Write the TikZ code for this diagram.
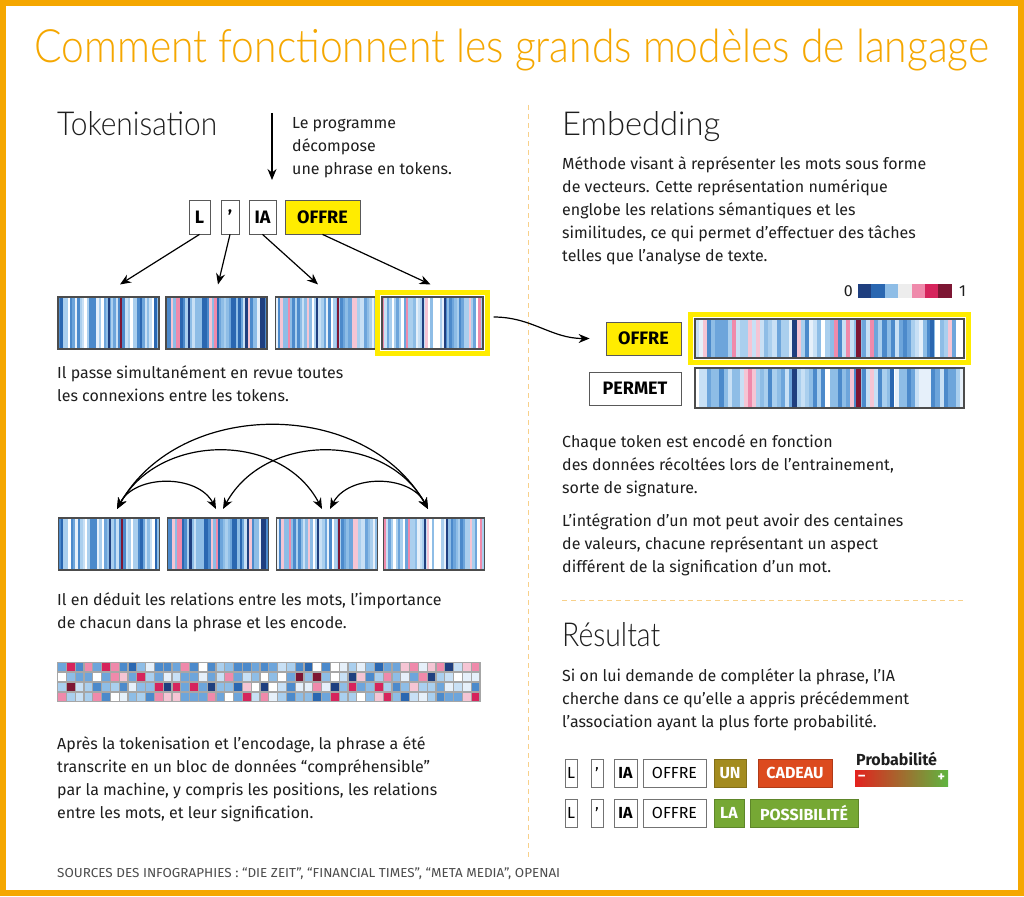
\documentclass[tikz,border=0pt]{standalone}
\usepackage{fontspec}
\setmainfont{Fira Sans}
\newfontfamily\headfont{Lato Light}
\usetikzlibrary{calc,shapes,arrows.meta}

\definecolor{frameorange}{HTML}{F5A700}
\definecolor{dashorange}{HTML}{F8D08A}
\definecolor{hiyellow}{HTML}{FFEC00}
\definecolor{ink}{HTML}{1E1E1E}
% stripe colours: blues first, then pinks and reds
\definecolor{bc1}{HTML}{1F3F7F}
\definecolor{bc2}{HTML}{2A67B1}
\definecolor{bc3}{HTML}{4C8ACB}
\definecolor{bc4}{HTML}{6DA5DB}
\definecolor{bc5}{HTML}{8EBDE6}
\definecolor{bc6}{HTML}{AACFEE}
\definecolor{bc7}{HTML}{C8E0F5}
\definecolor{bc8}{HTML}{E6F0FA}
\definecolor{bc9}{HTML}{FFFFFF}
\colorlet{bc10}{bc4}
\colorlet{bc11}{bc5}
\colorlet{bc12}{bc6}
\colorlet{bc13}{bc3}
\colorlet{bc14}{bc7}
\definecolor{bc15}{HTML}{F5C5D4}
\definecolor{bc16}{HTML}{EF8AAB}
\definecolor{bc17}{HTML}{D6245C}
\definecolor{bc18}{HTML}{7D1633}
\definecolor{unolive}{HTML}{A38B1F}
\definecolor{cadeaured}{HTML}{DC4A1E}
\definecolor{possgreen}{HTML}{76A834}
\definecolor{probred}{HTML}{E3221E}
\definecolor{proborange}{HTML}{D98A25}
\definecolor{probgreen}{HTML}{5FB540}

\newcommand\bodyfont{\fontsize{16}{23}\selectfont}
\newcommand\tokfont{\fontsize{18}{20}\selectfont\bfseries}
\newcommand\resfont{\fontsize{16}{18}\selectfont}

% random stripes inside a bar: seed, count, lowest colour, highest colour
\newcommand\stripes[4]{%
  \pgfmathsetseed{#1}%
  \foreach \i in {1,...,#2}{%
    \pgfmathrandominteger{\ci}{#3}{#4}%
    \fill[fill=bc\ci] ($(path picture bounding box.south west)!{(\i-1)/#2}!(path picture bounding box.south east)$)
      rectangle ($(path picture bounding box.north west)!{\i/#2}!(path picture bounding box.north east)+(0.6,0)$);
  }}
\newcommand\oneline[3]{% colour, offset, width
  \fill[#1] ($(path picture bounding box.south west)+(#2,0)$) rectangle ++(#3,-60);}

\begin{document}
\begin{tikzpicture}[x=1pt,y=-1pt,
  txt/.style={anchor=north west, inner sep=0pt, align=left, text=ink, font=\bodyfont},
  heading/.style={anchor=base west, inner sep=0pt, text=ink, font=\headfont\fontsize{33}{36}\selectfont},
  tok/.style={draw=black!65, line width=0.8pt, fill=white, inner sep=0pt, minimum height=34pt, font=\tokfont},
  rtok/.style={draw=black!55, line width=0.8pt, fill=white, inner sep=0pt, minimum height=28pt, font=\resfont},
  ctok/.style={rtok, text=white, draw=#1!80!black, fill=#1, font=\resfont\bfseries},
  bar/.style={draw=black!70, line width=1.1pt, inner sep=0pt, minimum width=101pt, minimum height=52pt},
  link/.style={-{Stealth[length=11pt,width=9pt]}, line width=1.2pt},
  twoway/.style={{Stealth[length=11pt,width=9pt]}-{Stealth[length=11pt,width=9pt]}, line width=1.2pt},
  hiframe/.style={draw=hiyellow, line width=5pt},
  divider/.style={draw=dashorange, line width=1pt, dash pattern=on 5pt off 4pt}]

\useasboundingbox (0,0) rectangle (1024,896);
\fill[white] (0,0) rectangle (1024,896);
\draw[frameorange, line width=6pt] (3,3) rectangle (1021,893);

% title
\node[anchor=base, inner sep=0pt, text=frameorange, font=\headfont\fontsize{46}{50}\selectfont] (title) at (512,63)
  {\resizebox{955pt}{\height}{Comment fonctionnent les grands modèles de langage}};

% dividers
\draw[divider] (528,105) -- (528,860);
\draw[divider] (562,600) -- (965,600);

%%% Tokenisation
\node[heading] (tokhead) at (57,136) {\resizebox{160pt}{\height}{Tokenisation}};
\coordinate (dtop) at (272,113);
\coordinate (dbot) at (272,180);
\draw[link] (dtop) -- (dbot);
\node[txt] (tokdesc) at (292,117) {Le programme\\décompose\\une phrase en tokens.};

\node[tok, minimum width=21pt] (tL) at (199.5,217) {L};
\node[tok, minimum width=18pt] (tq) at (230,217) {’};
\node[tok, minimum width=27pt] (tIA) at (262.5,217) {IA};
\node[tok, minimum width=75pt, fill=hiyellow] (tOF) at (322.5,217) {OFFRE};

\node[bar, path picture={\stripes{11}{42}{2}{14}\oneline{bc1}{50}{2}\oneline{bc18}{62}{2}}] (r1) at (108.5,323) {};
\node[bar, path picture={\stripes{23}{42}{1}{17}}] (r2) at (216.5,323) {};
\node[bar, path picture={\stripes{37}{42}{3}{16}\oneline{bc1}{40}{2}\oneline{bc18}{61}{2}}] (r3) at (326,323) {};
\node[bar, path picture={\stripes{41}{42}{4}{16}\oneline{bc1}{40}{2}\oneline{bc1}{62}{2}}] (r4) at (432.5,323) {};
\draw[hiframe] ([shift={(-4pt,4pt)}]r4.north west) rectangle ([shift={(4pt,-4pt)}]r4.south east);

\draw[link] (tL.south) -- ([xshift=11.5pt,yshift=12pt]r1.north);
\draw[link] (tq.south) -- ([xshift=1.5pt,yshift=12pt]r2.north);
\draw[link] (tIA.south) -- ([xshift=-8pt,yshift=12pt]r3.north);
\draw[link] (tOF.south) -- ([xshift=-2pt,yshift=12pt]r4.north);

\node[txt] (passe) at (57,365) {Il passe simultanément en revue toutes\\les connexions entre les tokens.};

% second row of bars, linked by arcs
\node[bar, path picture={\stripes{11}{42}{2}{14}\oneline{bc1}{50}{2}\oneline{bc18}{62}{2}}] (s1) at (109,544) {};
\node[bar, path picture={\stripes{23}{42}{1}{17}}] (s2) at (218,544) {};
\node[bar, path picture={\stripes{37}{42}{3}{16}\oneline{bc1}{40}{2}\oneline{bc18}{61}{2}}] (s3) at (327,544) {};
\node[bar, path picture={\stripes{41}{42}{4}{16}\oneline{bc1}{40}{2}\oneline{bc1}{62}{2}}] (s4) at (434,544) {};

\coordinate (p1) at (117,509);
\coordinate (p2) at (216,509);
\coordinate (p2b) at (223,509);
\coordinate (p3) at (322,509);
\coordinate (p3b) at (330,509);
\coordinate (p4) at (428,509);
\draw[twoway] (p1) .. controls (135,474) and (198,474) .. (p2);
\draw[twoway] (p3b) .. controls (348,474) and (410,474) .. (p4);
\draw[twoway] (p1) .. controls (160,432) and (282,432) .. (p3);
\draw[twoway] (p2b) .. controls (265,432) and (386,432) .. (p4);
\draw[twoway] (p1) .. controls (180,398) and (365,398) .. (p4);

\node[txt] (deduit) at (57,592) {Il en déduit les relations entre les mots, l’importance\\de chacun dans la phrase et les encode.};

% encoded block
\pgfmathsetseed{5}
\foreach \r in {0,...,3}{
  \fill[black!35] (57,662+\r*10) rectangle ++(424,10);
  \foreach \c in {0,...,47}{
    \pgfmathrandominteger{\ci}{1}{18}
    \fill[fill=bc\ci] (58.2+\c*8.8,663.2+\r*10) rectangle ++(7.6,7.6);
  }
}

\node[txt] (apres) at (57,736) {Après la tokenisation et l’encodage, la phrase a été\\transcrite en un bloc de données “compréhensible”\\par la machine, y compris les positions, les relations\\entre les mots, et leur signification.};

%%% Embedding
\node[heading] (embhead) at (562,136) {\resizebox{158pt}{\height}{Embedding}};
\node[txt] (methode) at (562,156) {Méthode visant à représenter les mots sous forme\\de vecteurs. Cette représentation numérique\\englobe les relations sémantiques et les\\similitudes, ce qui permet d’effectuer des tâches\\telles que l’analyse de texte.};

\node[anchor=east, inner sep=0pt, font=\bodyfont, text=ink] (zero) at (853,291) {0};
\foreach \c [count=\n from 0] in {bc1,bc2,bc5,black!7,bc16,bc17,bc18}
  \fill[\c] (858+\n*13.4,284) rectangle ++(13.5,14);
\node[anchor=west, inner sep=0pt, font=\bodyfont, text=ink] (one) at (959,291) {1};

\node[tok, minimum width=75pt, minimum height=33pt, fill=hiyellow] (eOF) at (643.5,338.5) {OFFRE};
\node[tok, minimum width=92pt, minimum height=33pt] (ePE) at (635,388.5) {PERMET};
\node[bar, minimum width=269pt, minimum height=39pt,
  path picture={\stripes{52}{66}{3}{16}\oneline{bc1}{97}{5}\oneline{bc18}{161}{5}\oneline{bc2}{235}{4}}] (e1) at (829.5,338.5) {};
\node[bar, minimum width=269pt, minimum height=40pt,
  path picture={\stripes{64}{66}{3}{16}\oneline{bc1}{97}{5}\oneline{bc18}{161}{5}\oneline{bc2}{195}{4}}] (e2) at (829.5,388) {};
\draw[hiframe] ([shift={(-3.5pt,3.5pt)}]e1.north west) rectangle ([shift={(3.5pt,-3.5pt)}]e1.south east);

\draw[link] ([xshift=10pt,yshift=6pt]r4.east) to[out=0,in=180] ([xshift=-16pt]eOF.west);

\node[txt] (chaque) at (562,434) {Chaque token est encodé en fonction\\des données récoltées lors de l’entrainement,\\sorte de signature.};
\node[txt] (integ) at (562,513) {L’intégration d’un mot peut avoir des centaines\\de valeurs, chacune représentant un aspect\\différent de la signification d’un mot.};

%%% Résultat
\node[heading] (reshead) at (562,646) {\resizebox{98pt}{\height}{Résultat}};
\node[txt] (sion) at (562,668) {Si on lui demande de compléter la phrase, l’IA\\cherche dans ce qu’elle a appris précédemment\\l’association ayant la plus forte probabilité.};

\node[rtok, minimum width=12pt] (aL) at (571,773) {L};
\node[rtok, minimum width=12pt] (aq) at (597,773) {’};
\node[rtok, minimum width=23pt, font=\resfont\bfseries] (aIA) at (625.5,773) {IA};
\node[rtok, minimum width=63pt] (aOF) at (674.5,773) {OFFRE};
\node[ctok=unolive, minimum width=32pt] (aUN) at (730,773) {UN};
\node[ctok=cadeaured, minimum width=74pt] (aCA) at (795,773) {CADEAU};

\node[rtok, minimum width=12pt] (bL) at (571,813) {L};
\node[rtok, minimum width=12pt] (bq) at (597,813) {’};
\node[rtok, minimum width=23pt, font=\resfont\bfseries] (bIA) at (625.5,813) {IA};
\node[rtok, minimum width=63pt] (bOF) at (674.5,813) {OFFRE};
\node[ctok=possgreen, minimum width=30pt] (bLA) at (729,813) {LA};
\node[ctok=possgreen, minimum width=108pt] (bPO) at (804,813) {POSSIBILITÉ};

\node[anchor=base west, inner sep=0pt, text=ink, font=\fontsize{16}{18}\selectfont\bfseries] (prob) at (856,765) {Probabilité};
\node[inner sep=0pt, minimum width=93pt, minimum height=16pt, left color=probred, middle color=proborange, right color=probgreen] (grad) at (901.5,778) {};
\node[anchor=west, inner sep=0pt, text=white, font=\fontsize{14}{14}\selectfont\bfseries] (minus) at ([xshift=3pt]grad.west) {–};
\node[anchor=east, inner sep=0pt, text=white, font=\fontsize{14}{14}\selectfont\bfseries] (plus) at ([xshift=-3pt]grad.east) {+};

% sources
\node[anchor=base west, inner sep=0pt, text=black!70, font=\fontsize{13}{15}\selectfont] (src) at (57,877)
  {\resizebox{503pt}{\height}{SOURCES DES INFOGRAPHIES : “DIE ZEIT”, “FINANCIAL TIMES”, “META MEDIA”, OPENAI}};
\end{tikzpicture}
\end{document}
